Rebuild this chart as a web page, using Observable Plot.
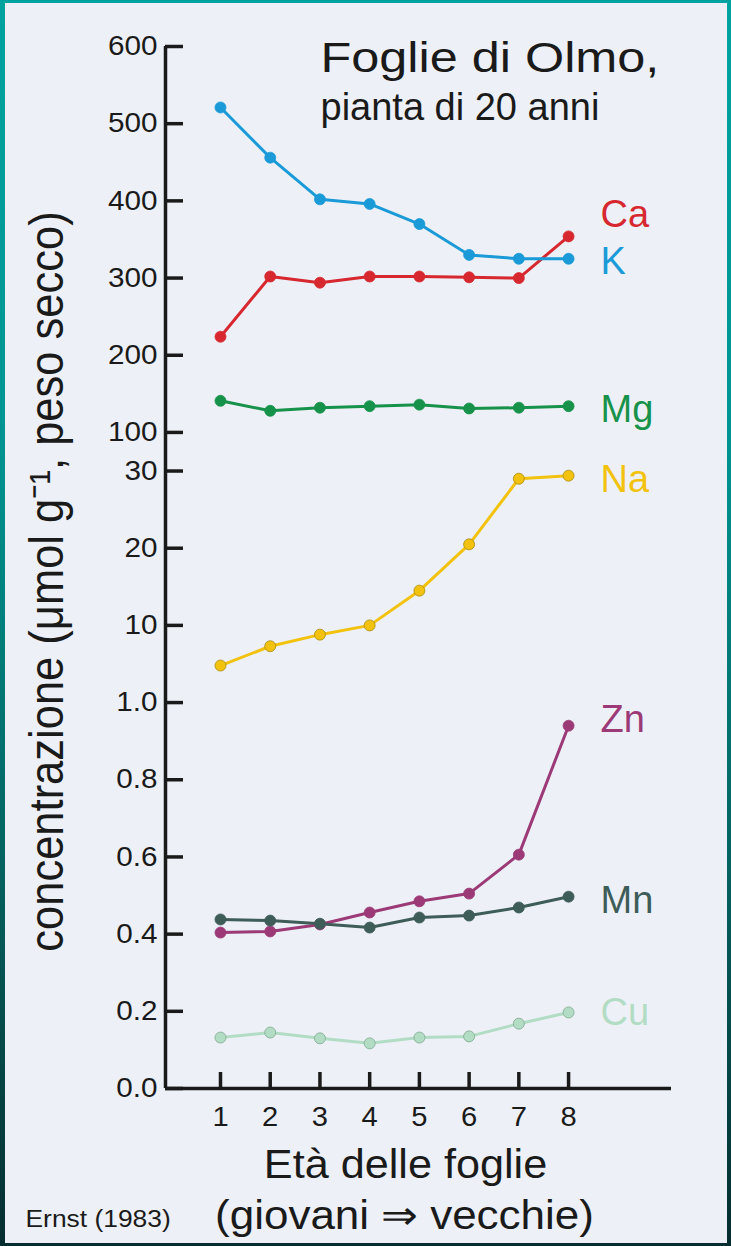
<!DOCTYPE html>
<html>
<head>
<meta charset="utf-8">
<script src="https://cdn.jsdelivr.net/npm/d3@7"></script>
<script src="https://cdn.jsdelivr.net/npm/@observablehq/plot@0.6"></script>
<style>
  html, body { margin: 0; padding: 0; overflow: hidden; background: #062d2f; }
  #frame { position: relative; width: 731px; height: 1246px;
    background: linear-gradient(to bottom, #00a3a0 0%, #009592 35%, #05625f 70%, #062d2f 100%); }
  #chart { position: absolute; left: 5px; top: 3px; width: 722px; height: 1240px; background: #edf1f7; }
  #chart svg { display: block; }
</style>
</head>
<body>
<div id="frame"><div id="chart"></div></div>
<script>
// ---- data ----
const ages = [1, 2, 3, 4, 5, 6, 7, 8];
const Ca = [224, 302, 294, 302, 302, 301, 300, 354];
const K  = [521, 456, 402, 396, 370, 330, 325, 325];
const Mg = [141, 128, 132, 134, 136, 131, 132, 134];
const Na = [4.8, 7.3, 8.8, 10.0, 14.5, 20.5, 29.0, 29.4];
const Zn = [0.404, 0.407, 0.425, 0.456, 0.485, 0.505, 0.606, 0.94];
const Mn = [0.438, 0.435, 0.427, 0.417, 0.443, 0.448, 0.469, 0.497];
const Cu = [0.132, 0.145, 0.130, 0.117, 0.132, 0.135, 0.168, 0.197];

const elements = ["Ca", "K", "Mg", "Na", "Zn", "Mn", "Cu"];
const segmentOf = {Ca: "top", K: "top", Mg: "top", Na: "na", Zn: "low", Mn: "low", Cu: "low"};

const yTickValues   = [0, 0.2, 0.4, 0.6, 0.8, 1.0, 10, 20, 30, 100, 200, 300, 400, 500, 600];
const yTickSegments = ["low","low","low","low","low","low","na","na","na","top","top","top","top","top","top"];
const yTickLabels   = ["0.0","0.2","0.4","0.6","0.8","1.0","10","20","30","100","200","300","400","500","600"];

const titleText = "Foglie di Olmo,";
const subtitleText = "pianta di 20 anni";
const yTitleText = "concentrazione (μmol g⁻¹, peso secco)";
const xTitleText = "Età delle foglie";
const xTitle2Text = "(giovani ⇒ vecchie)";
const sourceText = "Ernst (1983)";

// ---- broken-axis mapping (each segment is linear) ----
const toAxis = {
  low: v => v / 0.2,        // 0.0 .. 1.0
  na:  v => 5 + v / 10,     // 0 .. 30
  top: v => 7.5 + v / 100   // 100 .. 600
};

// ---- styles ----
const colors = {Ca: "#d7282f", K: "#1b9ad8", Mg: "#17924a", Na: "#f2c20e", Zn: "#9c3a77", Mn: "#3e5c58", Cu: "#b2dcc4"};
const dotStroke = {Ca: "#d7282f", K: "#1b9ad8", Mg: "#17924a", Na: "#a88b10", Zn: "#9c3a77", Mn: "#3e5c58", Cu: "#7fa88f"};
const labelDy = {Ca: -22, K: 3, Mg: 4, Na: 4, Zn: -6, Mn: 4, Cu: 0};

const valuesOf = {Ca, K, Mg, Na, Zn, Mn, Cu};
const rows = elements.flatMap(name =>
  valuesOf[name].map((v, i) => ({name, age: ages[i], value: v, seg: segmentOf[name]})));
const yTicks = yTickValues.map((v, i) => ({value: v, seg: yTickSegments[i], label: yTickLabels[i]}));
const Y = d => toAxis[d.seg](d.value);

const W = 722, H = 1240, mL = 160, mR = 56, mT = 43, mB = 155;
const frameW = W - mL - mR, frameH = H - mT - mB;
const xDomain = [-0.106, 10.07];
const ink = "#1a1a1a";
const font = "'Liberation Sans', Arial, Helvetica, sans-serif";

const marks = [
  Plot.ruleY([0], {stroke: ink, strokeWidth: 3.5}),
  Plot.ruleX([xDomain[0]], {stroke: ink, strokeWidth: 3.5}),
  Plot.tickY(yTicks, {y: Y, insetRight: frameW - 18, stroke: ink, strokeWidth: 3.5}),
  Plot.tickX(ages, {x: d => d, insetTop: frameH - 16, stroke: ink, strokeWidth: 3.5}),
  Plot.text(yTicks, {x: () => xDomain[0], y: Y, text: "label", textAnchor: "end", dx: -8,
    fontSize: 27, fill: ink}),
  Plot.text(ages, {x: d => d, text: d => String(d), frameAnchor: "bottom", lineAnchor: "bottom", dy: 37,
    fontSize: 27, fill: ink}),
  Plot.line(rows, {x: "age", y: Y, z: "name", stroke: d => colors[d.name], strokeWidth: 3}),
  Plot.dot(rows, {x: "age", y: Y, r: 5.5, fill: d => colors[d.name], stroke: d => dotStroke[d.name], strokeWidth: 0.8}),
  ...elements.map(name => {
    const last = rows.filter(r => r.name === name).at(-1);
    return Plot.text([last], {x: "age", y: Y, text: "name", fill: colors[name], dx: 32, dy: labelDy[name],
      textAnchor: "start", lineAnchor: "middle", fontSize: 38});
  }),
  Plot.text([titleText], {frameAnchor: "top-left", dx: 155, dy: 25, textAnchor: "start",
    lineAnchor: "bottom", fontSize: 42, fill: ink}),
  Plot.text([subtitleText], {frameAnchor: "top-left", dx: 155, dy: 73, textAnchor: "start",
    lineAnchor: "bottom", fontSize: 38, fill: ink}),
  Plot.text([yTitleText], {frameAnchor: "left", dx: -103, dy: 14, rotate: -90,
    textAnchor: "middle", lineAnchor: "bottom", fontSize: 43.5, fill: ink}),
  Plot.text([xTitleText], {frameAnchor: "bottom", dx: -13, dy: 89, textAnchor: "middle",
    lineAnchor: "bottom", fontSize: 40, fill: ink}),
  Plot.text([xTitle2Text], {frameAnchor: "bottom", dx: -14, dy: 140, textAnchor: "middle",
    lineAnchor: "bottom", fontSize: 40, fill: ink}),
  Plot.text([sourceText], {frameAnchor: "bottom-left", dx: -140, dy: 138, textAnchor: "start",
    lineAnchor: "bottom", fontSize: 24, fill: ink})
];

const plot = Plot.plot({
  width: W, height: H,
  marginLeft: mL, marginRight: mR, marginTop: mT, marginBottom: mB,
  x: {domain: xDomain, axis: null},
  y: {domain: [0, 13.5], axis: null},
  style: {background: "#edf1f7", fontFamily: font, color: ink, overflow: "visible"},
  marks
});

// horizontal stretch of glyphs to match the reference lettering (matched by text content)
const stretchBy = new Map([
  [titleText, [1.2, 1]], [subtitleText, [1.0, 1]], [yTitleText, [1.0, 1.1]],
  [xTitleText, [1.08, 1]], [xTitle2Text, [1.1, 1]], [sourceText, [1.1, 1]]
]);
yTickLabels.forEach(l => stretchBy.set(l, [1.1, 1]));
ages.forEach(a => stretchBy.set(String(a), [1.08, 1]));
plot.querySelectorAll("text").forEach(t => {
  const s = stretchBy.get(t.textContent);
  if (!s) return;
  const tr = t.getAttribute("transform") || "";
  t.setAttribute("transform", `${tr} scale(${s[0]},${s[1]})`);
});

document.getElementById("chart").appendChild(plot);
</script>
</body>
</html>
